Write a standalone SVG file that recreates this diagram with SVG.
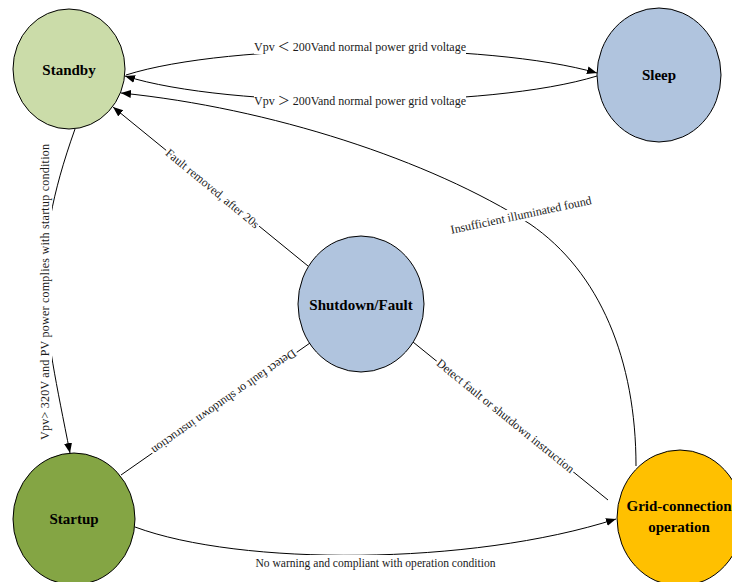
<svg xmlns="http://www.w3.org/2000/svg" width="732" height="582" viewBox="0 0 732 582">
<style>
.node{stroke:#000;stroke-width:1}
.ntext{font-family:"Liberation Serif","Times New Roman",serif;font-weight:bold;font-size:15px;text-anchor:middle;fill:#000}
.edge{fill:none;stroke:#000;stroke-width:1}
.elabel{font-family:"Liberation Serif","Times New Roman","Noto Sans CJK SC",serif;font-size:12px;fill:#1a1a1a;text-anchor:middle}
.lbg{fill:#fff}
</style>
<defs>
<marker id="arrow" markerWidth="11" markerHeight="9" refX="10" refY="4" orient="auto" markerUnits="userSpaceOnUse">
<path d="M0,0 L10,4 L0,8 z" fill="#000"/>
</marker>
</defs>
<rect width="732" height="582" fill="#fff"/>

<g id="node-standby">
<ellipse class="node" cx="69" cy="69" rx="56" ry="60" fill="#cbdca9"/>
<text class="ntext" x="69" y="75">Standby</text>
</g>
<g id="node-sleep">
<ellipse class="node" cx="659" cy="75" rx="62" ry="67" fill="#b0c4de"/>
<text class="ntext" x="659" y="80">Sleep</text>
</g>
<g id="node-shutdown">
<ellipse class="node" cx="361" cy="304" rx="63" ry="68" fill="#b0c4de"/>
<text class="ntext" x="361" y="310">Shutdown/Fault</text>
</g>
<g id="node-startup">
<ellipse class="node" cx="74" cy="519" rx="61" ry="66" fill="#84a544"/>
<text class="ntext" x="74" y="524">Startup</text>
</g>
<g id="node-grid">
<ellipse class="node" cx="680" cy="518" rx="63" ry="68" fill="#ffc000"/>
<text class="ntext" x="679" y="511">Grid-connection</text>
<text class="ntext" x="679" y="532">operation</text>
</g>

<g id="connectors">
<path class="edge" d="M126,75 C230,42 490,42 597,73" marker-end="url(#arrow)"/>
<path class="edge" d="M597,76 C490,109 230,109 125,76" marker-end="url(#arrow)"/>
<path class="edge" d="M636,466 C636,360 600,272 530,224 C430,160 270,108 121,93" marker-end="url(#arrow)"/>
<path class="edge" d="M135,527 C240,566 470,566 616,519" marker-end="url(#arrow)"/>
<path class="edge" d="M75,129 C28,261 43,316 70,453" marker-end="url(#arrow)"/>
<path class="edge" d="M308,266 L113,107" marker-end="url(#arrow)"/>
<path class="edge" d="M310,343 L121,475"/>
<path class="edge" d="M413,342 L608,500"/>
</g>

<g id="edge-labels">
<g transform="translate(360,47)">
<rect class="lbg" x="-106" y="-8" width="212" height="15"/>
<text class="elabel" x="0" y="4"><tspan>Vpv</tspan><tspan dx="3">＜</tspan><tspan dx="3">200Vand normal power grid voltage</tspan></text>
</g>
<g transform="translate(360,101)">
<rect class="lbg" x="-106" y="-8" width="212" height="15"/>
<text class="elabel" x="0" y="4"><tspan>Vpv</tspan><tspan dx="3">＞</tspan><tspan dx="3">200Vand normal power grid voltage</tspan></text>
</g>
<g transform="translate(521,215) rotate(-12)">
<rect class="lbg" x="-71" y="-8" width="142" height="15"/>
<text class="elabel" x="0" y="4">Insufficient illuminated found</text>
</g>
<g transform="translate(375.5,563)">
<rect class="lbg" x="-121" y="-8" width="242" height="15"/>
<text class="elabel" x="0" y="4" textLength="240" lengthAdjust="spacingAndGlyphs">No warning and compliant with operation condition</text>
</g>
<g transform="translate(45,292) rotate(-90)">
<rect class="lbg" x="-150" y="-8" width="300" height="15"/>
<text class="elabel" x="0" y="4" textLength="296" lengthAdjust="spacing">Vpv&gt;  320V and PV  power complies with startup condition</text>
</g>
<g transform="translate(212.5,188.5) rotate(39.5)">
<rect class="lbg" x="-60" y="-8" width="120" height="15"/>
<text class="elabel" x="0" y="4">Fault removed, after 20s</text>
</g>
<g transform="translate(224,402) rotate(145)">
<rect class="lbg" x="-88" y="-8" width="176" height="15"/>
<text class="elabel" x="0" y="4">Detect fault or shutdown instruction</text>
</g>
<g transform="translate(505.5,416) rotate(39)">
<rect class="lbg" x="-88" y="-8" width="176" height="15"/>
<text class="elabel" x="0" y="4">Detect fault or shutdown instruction</text>
</g>
</g>
</svg>
